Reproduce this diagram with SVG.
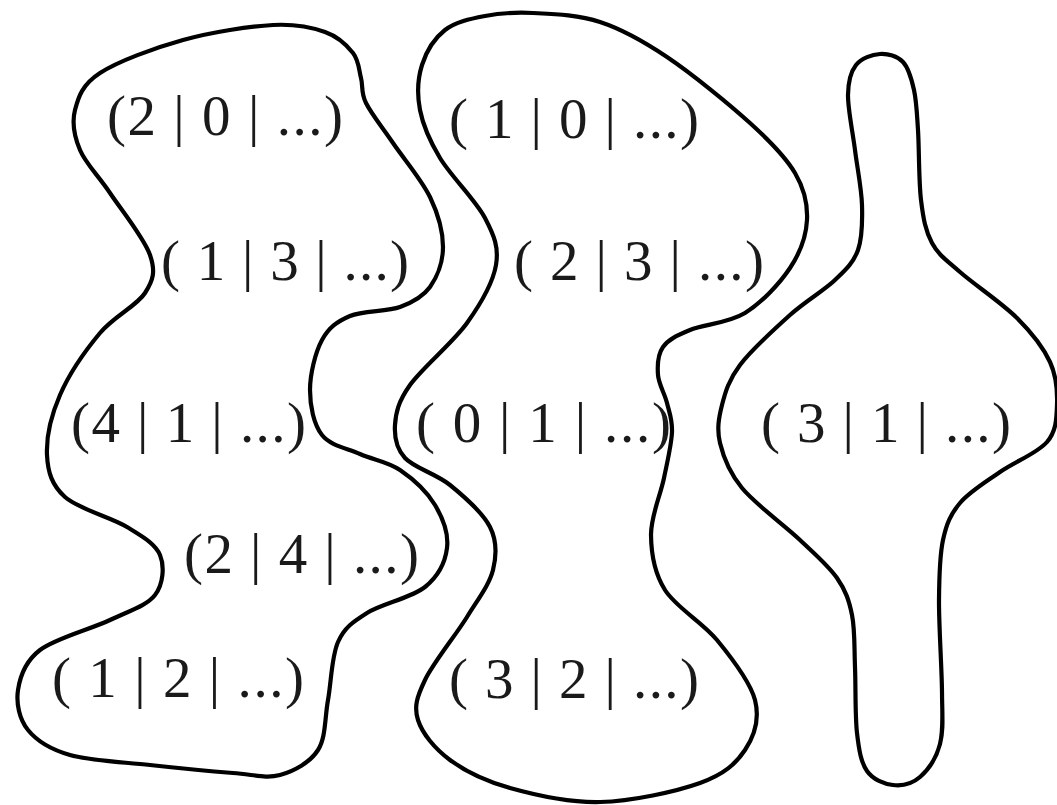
<svg xmlns="http://www.w3.org/2000/svg" width="1057" height="805" viewBox="0 0 1057 805">
<style>
.blob{fill:none;stroke:#000;stroke-width:4.2;stroke-linejoin:round}
.lbl{font-family:"Liberation Serif","Times New Roman",serif;font-size:57px;fill:#1a1a1a}
</style>
<rect width="1057" height="805" fill="#fff"/>
<g id="connectors"></g>
<g id="blob-left">
<path class="blob" d="M273,25 C296.7,23.7 311.7,27.3 325,32 S347,45.3 353,53 S358.8,69.7 361,78 S360.7,92.2 366,103 S382.3,127.3 393,143 S421.7,179.7 430,197 S443,232 443,247 S437.2,277 430,287 S413.3,302.2 400,307 S363,310.5 350,316 S328.7,327.7 322,340 S310,374.2 310,390 S313.7,424.3 322,435 S347,448.2 360,454 S387.5,461.5 400,470 S427.2,492 435,505 S448.7,534.3 447,548 S438.3,576.2 425,587 S381.5,603.8 367,613 S344.5,627.5 338,642 S331.3,682 328,700 S326,737.5 318,750 S294.2,771.2 280,775 S254.7,774.7 233,773 S177.2,768 150,765 S90.3,760.8 70,755 S36.7,740.8 28,730 S16,703.3 18,690 S24.7,661.7 40,650 S90.8,629.2 110,620 S146.7,605.8 155,595 S164.7,566.3 160,555 S142.8,536.7 127,527 S78.3,509 65,497 S47.8,472 47,455 S51.2,415.3 60,395 S85.8,350 100,333 S136.7,306 145,293 S155.8,271.7 150,255 S121.7,210.5 110,193 S85.8,163.8 80,150 S71.7,122.8 75,110 S82,84.7 100,73 S154.2,48 183,40 S249.3,26.3 273,25 Z"/>
<text class="lbl" x="107" y="135" textLength="236" lengthAdjust="spacing">(2 | 0 | ...)</text>
<text class="lbl" x="161" y="280" textLength="248" lengthAdjust="spacing">( 1 | 3 | ...)</text>
<text class="lbl" x="71" y="442" textLength="235" lengthAdjust="spacing">(4 | 1 | ...)</text>
<text class="lbl" x="184" y="573" textLength="235" lengthAdjust="spacing">(2 | 4 | ...)</text>
<text class="lbl" x="52" y="697" textLength="252" lengthAdjust="spacing">( 1 | 2 | ...)</text>
</g>
<g id="blob-middle">
<path class="blob" d="M533,13 C552.2,14 577.7,14.7 600,22 S642,40.2 667,57 S728.7,103.7 750,123 S785.5,156.8 795,173 S807.8,204.2 807,220 S800.3,252.5 790,268 S761.7,302.7 745,313 S703.7,324.3 690,330 S668.3,339.5 663,347 S657.3,365.7 658,375 S664.7,393.5 667,403 S672.5,419.5 672,432 S667.5,460.8 664,478 S650.8,516.3 651,535 S654,572.5 665,590 S702,621.7 717,640 S750.3,681.7 755,700 S754.2,736.2 745,750 S724.2,774.3 700,783 S631.7,801.2 600,802 S535,795 510,788 S465.3,771.3 450,760 S422.2,733.3 418,720 S416.8,697.2 425,680 S455.7,635.3 467,617 S489.2,585 493,570 S497.2,541.2 490,527 S464.2,496.5 450,485 S414.2,468 405,458 S394.2,437.2 395,425 S398,402 410,385 S452.7,343 467,323 S493,282.5 496,265 S494.3,235.8 485,218 S450.8,176 440,158 S423,125.5 420,110 S417.8,78.3 422,65 S434.5,38.2 445,30 S470.3,18.8 485,16 S513.8,12 533,13 Z"/>
<text class="lbl" x="449" y="138" textLength="250" lengthAdjust="spacing">( 1 | 0 | ...)</text>
<text class="lbl" x="514" y="280" textLength="250" lengthAdjust="spacing">( 2 | 3 | ...)</text>
<text class="lbl" x="416" y="442" textLength="255" lengthAdjust="spacing">( 0 | 1 | ...)</text>
<text class="lbl" x="449" y="698" textLength="250" lengthAdjust="spacing">( 3 | 2 | ...)</text>
</g>
<g id="blob-right">
<path class="blob" d="M880,54 C887.8,53.5 897.3,56 903,62 S911.5,78.7 914,90 S916.8,111.7 918,130 S918.7,181.2 921,200 S925.5,231 932,243 S945.8,259.5 960,272 S1002,303 1017,318 S1043.3,347.5 1050,362 S1057.5,391.7 1057,405 S1056.5,430.8 1047,442 S1014.5,461.8 1000,472 S969.5,491.7 960,503 S946.5,523.8 943,540 S939.2,574.7 939,600 S941.8,668 942,692 S943.7,729.8 940,744 S927.8,770.2 920,777 S901.8,786 893,785 S873,779.7 867,771 S859,750.3 857,733 S855.8,686.7 855,667 S855,629.8 852,615 S845.7,590.5 837,578 S815.8,555 800,540 S755.3,504.2 742,488 S723.3,456.8 720,443 S718.7,418 722,405 S728.7,380 740,365 S774.2,329.2 790,315 S823.7,290.8 835,280 S853.5,262.5 858,250 S862.5,221.7 862,205 S857.3,168.3 855,150 S847.8,109.2 848,95 S850.7,71.8 856,65 S872.2,54.5 880,54 Z"/>
<text class="lbl" x="761" y="442" textLength="250" lengthAdjust="spacing">( 3 | 1 | ...)</text>
</g>
</svg>
